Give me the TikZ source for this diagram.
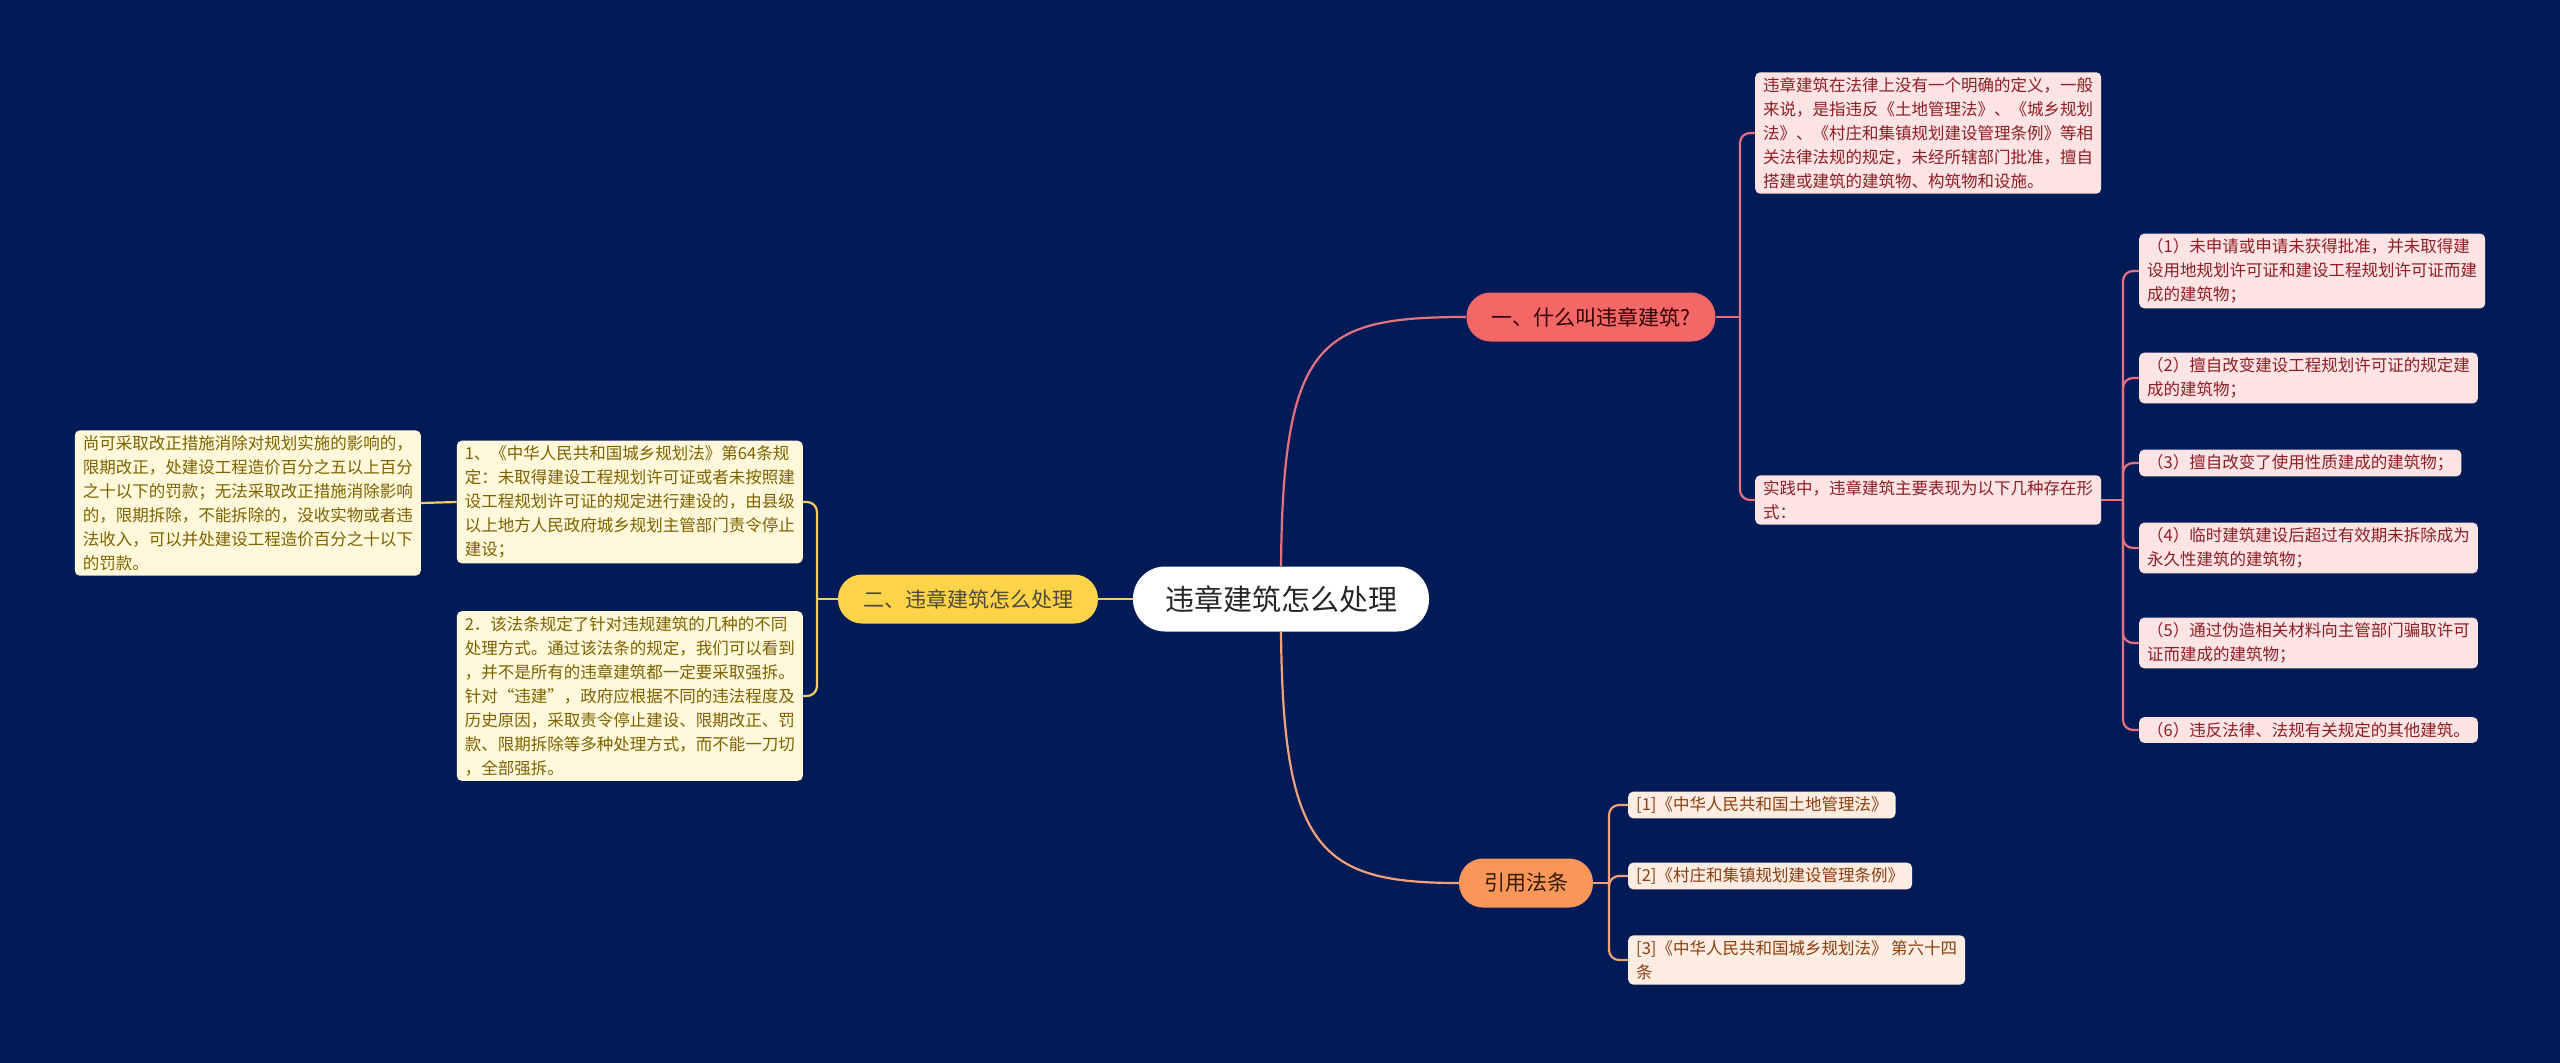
\documentclass[tikz,border=0pt]{standalone}
\usepackage{fontspec}
\setmainfont{Noto Sans CJK SC}

\definecolor{bgblue}{HTML}{021B57}
\definecolor{coral}{HTML}{F36767}
\definecolor{sun}{HTML}{FDD447}
\definecolor{peach}{HTML}{F9975A}
\definecolor{pinkfill}{HTML}{FDE4E4}
\definecolor{pinktext}{HTML}{8E1E26}
\definecolor{creamfill}{HTML}{FFF8DA}
\definecolor{creamtext}{HTML}{7D6200}
\definecolor{peachfill}{HTML}{FDECE1}
\definecolor{peachtext}{HTML}{8A3F12}
\definecolor{pinkline}{HTML}{E4727F}
\definecolor{sunline}{HTML}{F1CE5E}
\definecolor{peachline}{HTML}{F0A27A}

\begin{document}
\begin{tikzpicture}[x=1pt, y=-1pt,
  rootbox/.style={fill=white, text=black!85, rounded corners=32pt, minimum width=296pt, minimum height=65pt, font=\fontsize{29}{34}\selectfont},
  topic/.style={rounded corners=24pt, minimum height=49pt, inner xsep=25pt, font=\fontsize{21}{26}\selectfont},
  detail/.style={rounded corners=5pt, align=left, inner xsep=8pt, inner ysep=5pt, font=\fontsize{16.5}{24}\selectfont},
  pinkbox/.style={detail, fill=pinkfill, text=pinktext},
  creambox/.style={detail, fill=creamfill, text=creamtext},
  peachbox/.style={detail, fill=peachfill, text=peachtext},
  link/.style={line width=2.2pt}]

\fill[bgblue] (0,0) rectangle (2560,1063);
\useasboundingbox (0,0) rectangle (2560,1063);

\node[rootbox] at (1281,599) (root) {违章建筑怎么处理};

\node[topic, fill=coral, text=black!80!red] at (1591,317) (what) {一、什么叫违章建筑?};
\node[topic, fill=sun, text=black!80!yellow] at (968,599) (how) {二、违章建筑怎么处理};
\node[topic, fill=peach, text=black!80!orange] at (1526,883) (cite) {引用法条};

\node[pinkbox, anchor=west] at (1755,133) (def) {违章建筑在法律上没有一个明确的定义，一般\\来说，是指违反《土地管理法》、《城乡规划\\法》、《村庄和集镇规划建设管理条例》等相\\关法律法规的规定，未经所辖部门批准，擅自\\搭建或建筑的建筑物、构筑物和设施。};
\node[pinkbox, anchor=west] at (1755,500) (prac) {实践中，违章建筑主要表现为以下几种存在形\\式：};

\node[pinkbox, anchor=west] at (2139,271) (form1) {（1）未申请或申请未获得批准，并未取得建\\设用地规划许可证和建设工程规划许可证而建\\成的建筑物；};
\node[pinkbox, anchor=west] at (2139,378) (form2) {（2）擅自改变建设工程规划许可证的规定建\\成的建筑物；};
\node[pinkbox, anchor=west] at (2139,463) (form3) {（3）擅自改变了使用性质建成的建筑物；};
\node[pinkbox, anchor=west] at (2139,548) (form4) {（4）临时建筑建设后超过有效期未拆除成为\\永久性建筑的建筑物；};
\node[pinkbox, anchor=west] at (2139,643) (form5) {（5）通过伪造相关材料向主管部门骗取许可\\证而建成的建筑物；};
\node[pinkbox, anchor=west] at (2139,730) (form6) {（6）违反法律、法规有关规定的其他建筑。};

\node[creambox, anchor=east] at (803,502) (law1) {1、《中华人民共和国城乡规划法》第64条规\\定：未取得建设工程规划许可证或者未按照建\\设工程规划许可证的规定进行建设的，由县级\\以上地方人民政府城乡规划主管部门责令停止\\建设；};
\node[creambox, anchor=east] at (803,696) (law2) {2．该法条规定了针对违规建筑的几种的不同\\处理方式。通过该法条的规定，我们可以看到\\，并不是所有的违章建筑都一定要采取强拆。\\针对“违建”，政府应根据不同的违法程度及\\历史原因，采取责令停止建设、限期改正、罚\\款、限期拆除等多种处理方式，而不能一刀切\\，全部强拆。};
\node[creambox, anchor=east] at (421,503) (fine) {尚可采取改正措施消除对规划实施的影响的，\\限期改正，处建设工程造价百分之五以上百分\\之十以下的罚款；无法采取改正措施消除影响\\的，限期拆除，不能拆除的，没收实物或者违\\法收入，可以并处建设工程造价百分之十以下\\的罚款。};

\node[peachbox, anchor=west] at (1628,805) (ref1) {[1]《中华人民共和国土地管理法》};
\node[peachbox, anchor=west] at (1628,876) (ref2) {[2]《村庄和集镇规划建设管理条例》};
\node[peachbox, anchor=west] at (1628,960) (ref3) {[3]《中华人民共和国城乡规划法》 第六十四\\条};

\draw[link, pinkline] (root.north) .. controls (1283,340) and (1320,317) .. (what.west);
\draw[link, sunline] (root.west) -- (how.east);
\draw[link, peachline] (root.south) .. controls (1283,850) and (1320,883) .. (cite.west);

\coordinate (forkA) at (1740,317);
\draw[link, pinkline] (what.east) -- (forkA);
\draw[link, pinkline, rounded corners=10pt] (forkA) |- (def.west);
\draw[link, pinkline, rounded corners=10pt] (forkA) |- (prac.west);

\coordinate (forkB) at (2123,500);
\draw[link, pinkline] (prac.east) -- (forkB);
\draw[link, pinkline, rounded corners=10pt] (forkB) |- (form1.west);
\draw[link, pinkline, rounded corners=10pt] (forkB) |- (form2.west);
\draw[link, pinkline, rounded corners=10pt] (forkB) |- (form3.west);
\draw[link, pinkline, rounded corners=10pt] (forkB) |- (form4.west);
\draw[link, pinkline, rounded corners=10pt] (forkB) |- (form5.west);
\draw[link, pinkline, rounded corners=10pt] (forkB) |- (form6.west);

\coordinate (forkC) at (817,599);
\draw[link, sunline] (how.west) -- (forkC);
\draw[link, sunline, rounded corners=10pt] (forkC) |- (law1.east);
\draw[link, sunline, rounded corners=10pt] (forkC) |- (law2.east);
\draw[link, sunline] (law1.west) -- (fine.east);

\coordinate (forkD) at (1609,883);
\draw[link, peachline] (cite.east) -- (forkD);
\draw[link, peachline, rounded corners=10pt] (forkD) |- (ref1.west);
\draw[link, peachline, rounded corners=10pt] (forkD) |- (ref2.west);
\draw[link, peachline, rounded corners=10pt] (forkD) |- (ref3.west);

\end{tikzpicture}
\end{document}
